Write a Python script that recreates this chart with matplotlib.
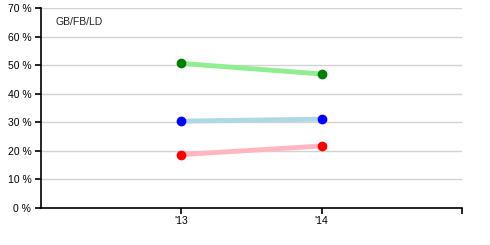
import matplotlib
matplotlib.use("Agg")
import matplotlib.pyplot as plt
from matplotlib.ticker import FuncFormatter

plt.rcParams['font.family'] = ['Liberation Sans', 'DejaVu Sans']

years = ["'13", "'14"]
gb = [50.6, 46.9]
ld = [18.7, 21.7]
fb = [30.4, 31.1]
yticks = [0, 10, 20, 30, 40, 50, 60, 70]

fig = plt.figure(figsize=(4.9, 2.45), dpi=100)
ax = fig.add_axes([41/490, 1-208/245, (462-41)/490, 200/245])

xs = [1, 2]
series = [
    (gb, '#90EE90', '#008000'),
    (fb, '#ADD8E6', '#0000FF'),
    (ld, '#FFB6C1', '#FF0000'),
]
for vals, lc, mc in series:
    ax.plot(xs, vals, color=lc, lw=3.5, solid_capstyle='butt', zorder=3)
    ax.plot(xs, vals, 'o', color=mc, ms=6, mec=mc, zorder=4)

ax.set_xlim(0, 3)
ax.set_ylim(0, 70)
ax.set_yticks(yticks)
ax.yaxis.set_major_formatter(FuncFormatter(lambda v, p: f"{int(v)} %"))
ax.set_xticks([1, 2, 3])
ax.set_xticklabels(years + [''])
ax.grid(axis='y', color='#d3d3d3', lw=1)
ax.set_axisbelow(True)
for s in ['top', 'right']:
    ax.spines[s].set_visible(False)
for s in ['left', 'bottom']:
    ax.spines[s].set_linewidth(1.2)
ax.tick_params(axis='both', length=4, width=1.2, labelsize=7.5, colors='black', pad=3)
ax.tick_params(axis='x', pad=2)
ax.text(0.1, 65, 'GB/FB/LD', fontsize=7.5, color='#222222', va='center', ha='left')

fig.savefig('out.png', dpi=100)
